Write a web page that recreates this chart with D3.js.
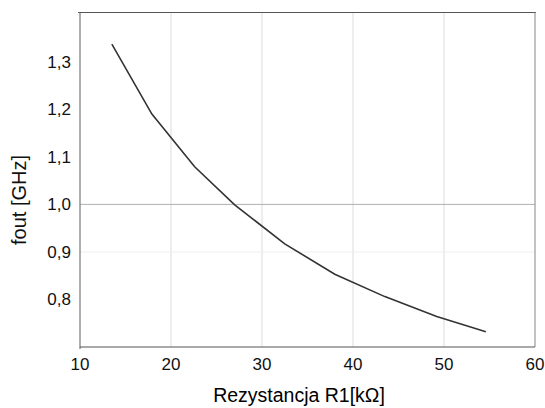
<!DOCTYPE html>
<html>
<head>
<meta charset="utf-8">
<script src="https://cdn.jsdelivr.net/npm/d3@7"></script>
<style>
  body { margin: 0; background: #fff; }
  text { font-family: "Liberation Sans", Arial, sans-serif; }
</style>
</head>
<body>
<svg id="chart" width="545" height="408"></svg>
<script>
// resistance R1 [kOhm] and output frequency [GHz]
var r1 = [13.5, 17.9, 22.6, 27.0, 32.5, 38.0, 43.5, 49.2, 54.6];
var fout = [1.337, 1.190, 1.079, 0.999, 0.917, 0.853, 0.806, 0.764, 0.732];
var xTicks = [10, 20, 30, 40, 50, 60];
var yTicks = [0.8, 0.9, 1.0, 1.1, 1.2, 1.3];

var svg = d3.select("#chart");
var pLeft = 80, pRight = 535, pTop = 12.5, pBottom = 347;

var x = d3.scaleLinear().domain([10, 60]).range([pLeft, pRight]);
var y = d3.scaleLinear().domain([0.7, 1.4036]).range([pBottom, pTop]);

// vertical grid
svg.selectAll("line.vgrid")
    .data(xTicks.slice(1, -1))
    .enter()
    .append("line")
    .attr("x1", function (d) { return x(d); })
    .attr("x2", function (d) { return x(d); })
    .attr("y1", pTop)
    .attr("y2", pBottom)
    .attr("stroke", "#dcdcdc")
    .attr("stroke-width", 1);

// horizontal grid: only 0.9 (faint) and 1.0 (darker) are visible
svg.append("line")
    .attr("x1", pLeft).attr("x2", pRight)
    .attr("y1", y(0.9)).attr("y2", y(0.9))
    .attr("stroke", "#eeeeee");
svg.append("line")
    .attr("x1", pLeft).attr("x2", pRight)
    .attr("y1", y(1.0)).attr("y2", y(1.0))
    .attr("stroke", "#b0b0b0");

// frame
svg.append("line").attr("x1", pLeft - 2).attr("x2", pRight + 1).attr("y1", pTop).attr("y2", pTop)
    .attr("stroke", "#555").attr("stroke-width", 1.2);
svg.append("line").attr("x1", pRight).attr("x2", pRight).attr("y1", pTop).attr("y2", pBottom)
    .attr("stroke", "#999").attr("stroke-width", 1.2);
svg.append("line").attr("x1", pLeft).attr("x2", pLeft).attr("y1", pTop).attr("y2", pBottom + 2)
    .attr("stroke", "#777").attr("stroke-width", 1.2);
svg.append("line").attr("x1", pLeft).attr("x2", pRight).attr("y1", pBottom).attr("y2", pBottom)
    .attr("stroke", "#555").attr("stroke-width", 1.2);

// ticks
svg.selectAll("text.xt")
    .data(xTicks)
    .enter()
    .append("text")
    .attr("x", function (d) { return x(d); })
    .attr("y", 370)
    .attr("text-anchor", "middle")
    .attr("font-size", 17)
    .attr("fill", "#111")
    .text(function (d) { return d; });

svg.selectAll("text.yt")
    .data(yTicks)
    .enter()
    .append("text")
    .attr("x", 71)
    .attr("y", function (d) { return y(d) + 6; })
    .attr("text-anchor", "end")
    .attr("font-size", 17)
    .attr("fill", "#111")
    .text(function (d) { return d3.format(".1f")(d).replace(".", ","); });

// axis titles
svg.append("text")
    .attr("x", 299)
    .attr("y", 402)
    .attr("text-anchor", "middle")
    .attr("font-size", 19.5)
    .attr("fill", "#000")
    .text("Rezystancja R1[kΩ]");

svg.append("text")
    .attr("transform", "translate(26,200) rotate(-90)")
    .attr("text-anchor", "middle")
    .attr("font-size", 20)
    .attr("fill", "#111")
    .text("fout [GHz]");

// curve
var line = d3.line()
    .x(function (d) { return x(d[0]); })
    .y(function (d) { return y(d[1]); });

svg.append("path")
    .datum(d3.zip(r1, fout))
    .attr("d", line)
    .attr("fill", "none")
    .attr("stroke", "#333")
    .attr("stroke-width", 1.6);
</script>
</body>
</html>
